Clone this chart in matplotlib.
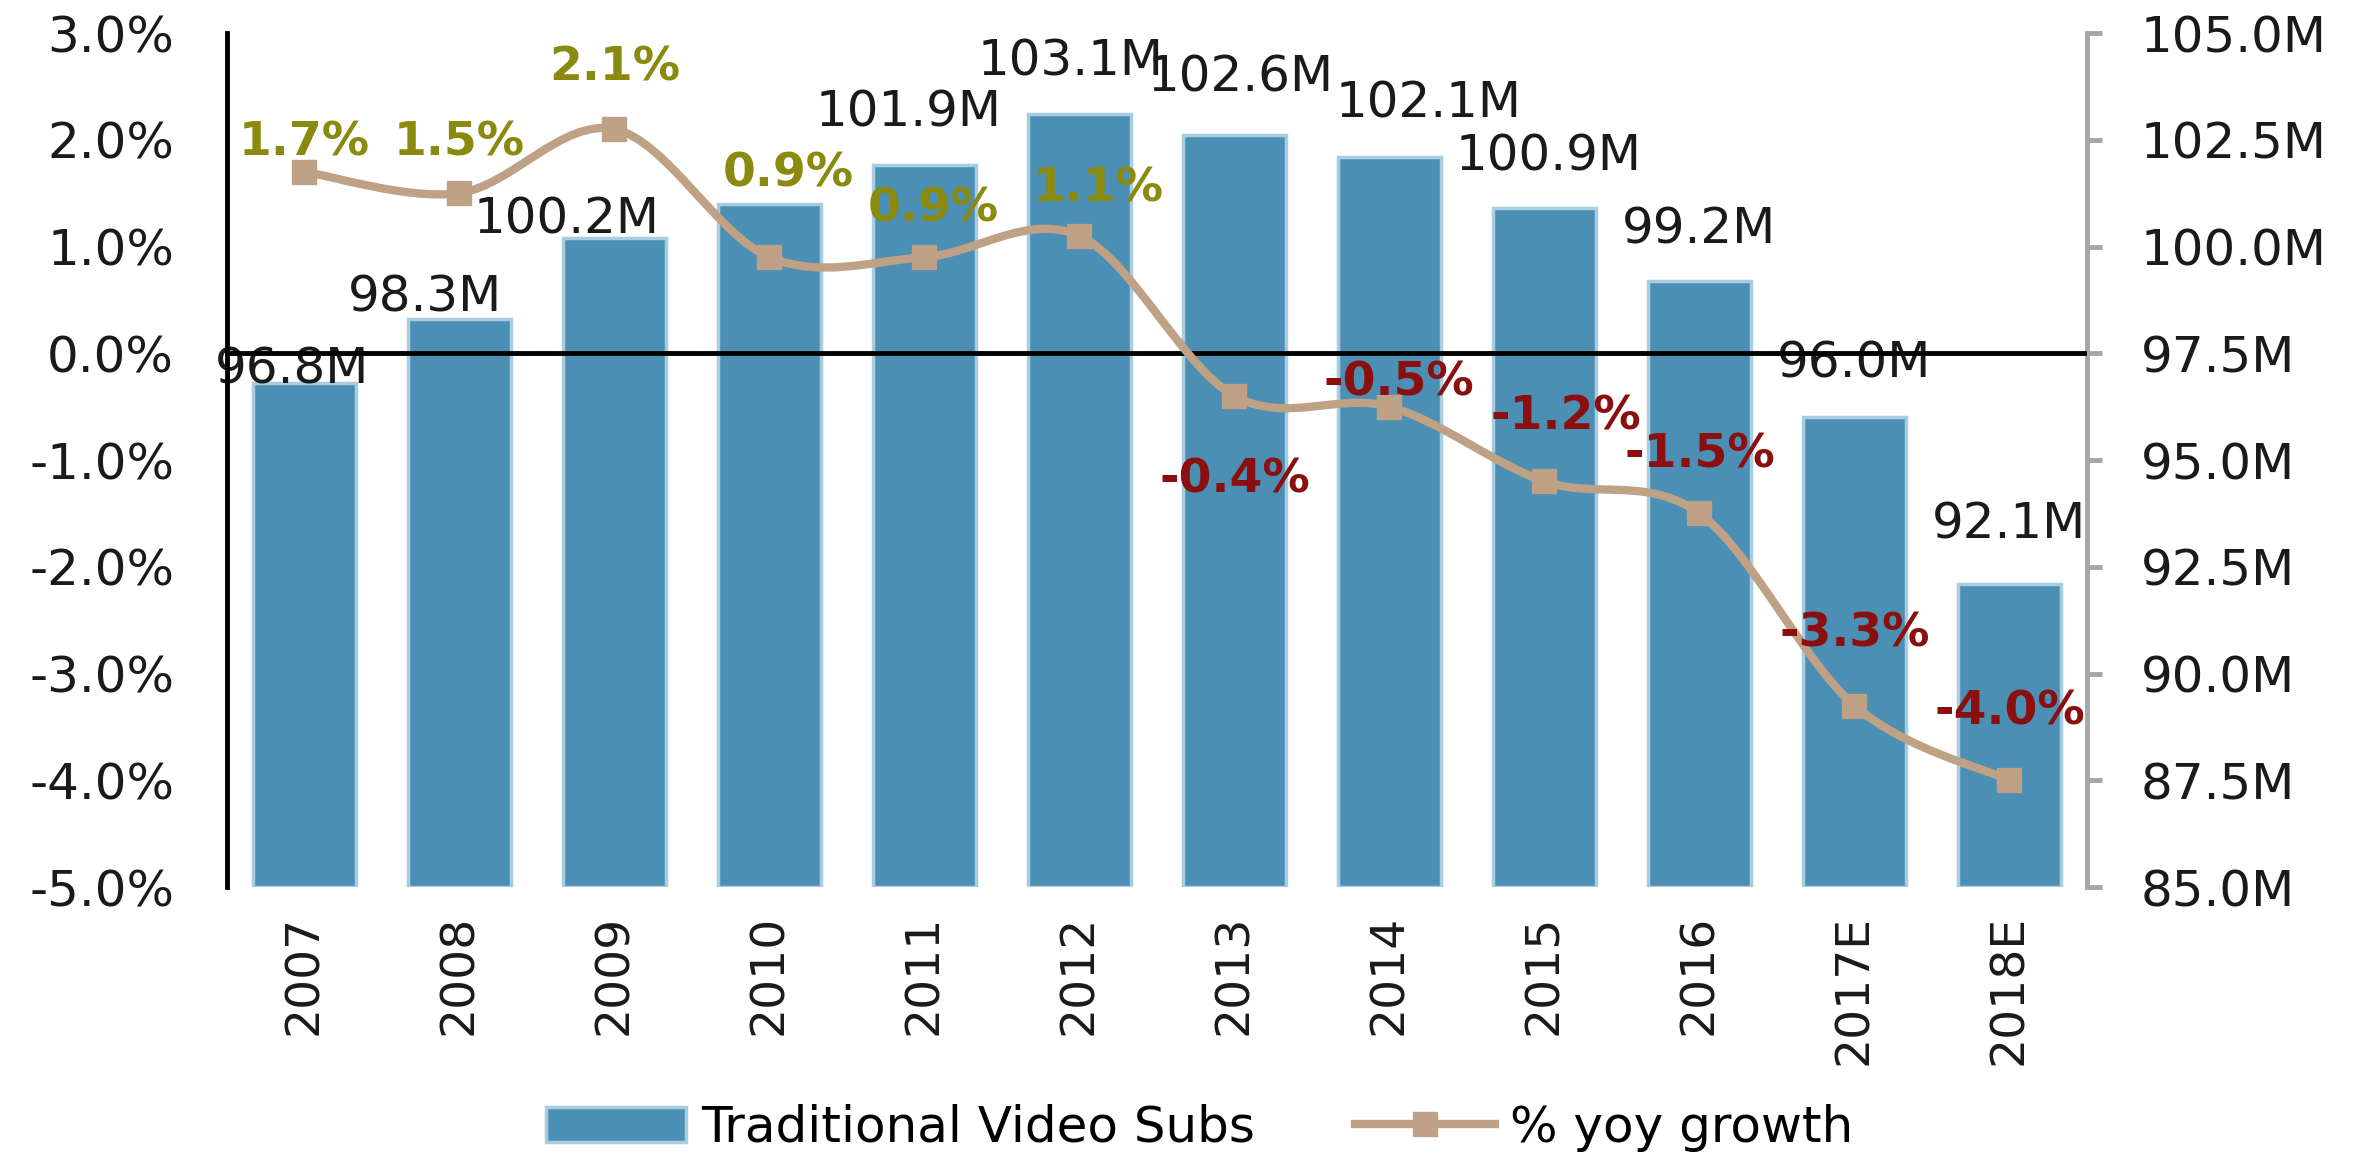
import numpy as np
import matplotlib.pyplot as plt
from matplotlib import font_manager
from matplotlib.path import Path
from matplotlib.patches import PathPatch, Patch
from matplotlib.lines import Line2D

# data
years = ["2007", "2008", "2009", "2010", "2011", "2012", "2013", "2014", "2015", "2016", "2017E", "2018E"]
subs = [96.8, 98.3, 100.2, 101.0, 101.9, 103.1, 102.6, 102.1, 100.9, 99.2, 96.0, 92.1]  # millions
growth = [1.7, 1.5, 2.1, 0.9, 0.9, 1.1, -0.4, -0.5, -1.2, -1.5, -3.3, -4.0]  # % yoy
subs_label_shown = [True, True, True, False, True, True, True, True, True, True, True, True]

# label placement (x shift in category units, y shift from value)
bar_lbl_off = [(-0.08, 0.32), (-0.22, 0.5), (-0.31, 0.44), (0, 0), (-0.1, 1.24), (-0.06, 1.24),
               (0.04, 1.35), (0.25, 1.25), (0.03, 1.2), (0.0, 1.2), (0.0, 1.25), (0.0, 1.4)]
pct_lbl_off = [(0, 0.27), (0, 0.47), (0, 0.57), (0.12, 0.78), (0.06, 0.45), (0.12, 0.44),
               (0, -0.79), (0.06, 0.22), (0.14, 0.6), (0, 0.55), (0, 0.67), (0, 0.64)]

BAR = "#4b8fb4"
BAR_EDGE = "#a8cce0"
LINE = "#bfa285"
POS = "#8a8a0e"
NEG = "#8b0f0f"
TXT = "#1a1a1a"
FS = 36

plt.rcParams["font.family"] = "DejaVu Sans"

# x labels in the original use a tall narrow face
names = {f.name for f in font_manager.fontManager.ttflist}
if "Liberation Sans Narrow" in names:
    xfont, xfs, xpad = "Liberation Sans Narrow", 46, 20
else:
    xfont, xfs, xpad = "DejaVu Sans", 34, 20

fig = plt.figure(figsize=(23.61, 11.58), dpi=100)
ax = fig.add_axes([0.0961, 0.234, 0.7878, 0.7375])
ax2 = ax.twinx()

x = np.arange(len(years))

# bars on the right axis
ax2.bar(x, [s - 85 for s in subs], bottom=85, width=0.66, color=BAR, edgecolor=BAR_EDGE, linewidth=2.5)
ax2.set_ylim(85, 105)
rticks = np.arange(85, 105.1, 2.5)
ax2.set_yticks(rticks)
ax2.set_yticklabels([f"{v:.1f}M" for v in rticks], fontsize=FS, color=TXT)
ax2.tick_params(axis="y", length=11, width=3.5, color="#a6a6a6", pad=28)
for s in ["top", "left", "bottom"]:
    ax2.spines[s].set_visible(False)
ax2.spines["right"].set_color("#a6a6a6")
ax2.spines["right"].set_linewidth(3.5)

for i, v in enumerate(subs):
    if subs_label_shown[i]:
        dx, dy = bar_lbl_off[i]
        ax2.text(x[i] + dx, v + dy, f"{v:.1f}M", ha="center", va="center", fontsize=FS, color=TXT)

# growth line on the left axis, above the bars
ax.set_zorder(ax2.get_zorder() + 1)
ax.patch.set_visible(False)
ax.set_xlim(-0.5, len(years) - 0.5)
ax.set_ylim(-5, 3)
lticks = np.arange(-5, 3.1, 1)
ax.set_yticks(lticks)
ax.set_yticklabels([f"{v:.1f}%" for v in lticks], fontsize=FS, color=TXT)
ax.tick_params(axis="y", length=0, pad=38)
ax.set_xticks(x)
ax.set_xticklabels(years, rotation=90, fontsize=xfs, color=TXT, family=[xfont, "DejaVu Sans"])
ax.tick_params(axis="x", length=0, pad=xpad)
for s in ["top", "right", "bottom"]:
    ax.spines[s].set_visible(False)
ax.spines["left"].set_linewidth(3.5)
ax.axhline(0, color="black", lw=3.5, zorder=1)

# smoothed line (catmull-rom as bezier segments)
pts = np.column_stack([x, growth]).astype(float)
verts = [pts[0]]
codes = [Path.MOVETO]
for i in range(len(pts) - 1):
    p0 = pts[i - 1] if i > 0 else pts[i]
    p1, p2 = pts[i], pts[i + 1]
    p3 = pts[i + 2] if i + 2 < len(pts) else pts[i + 1]
    verts += [p1 + (p2 - p0) / 6, p2 - (p3 - p1) / 6, p2]
    codes += [Path.CURVE4] * 3
ax.add_patch(PathPatch(Path(verts, codes), facecolor="none", edgecolor=LINE, lw=6, zorder=3))
ax.plot(x, growth, ls="none", marker="s", ms=17, color=LINE, zorder=4)

for i, v in enumerate(growth):
    dx, dy = pct_lbl_off[i]
    ax.text(x[i] + dx, v + dy, f"{v:.1f}%", ha="center", va="center", fontsize=34,
            fontweight="bold", color=POS if v >= 0 else NEG, zorder=5)

handles = [Patch(facecolor=BAR, edgecolor=BAR_EDGE, linewidth=2.5),
           Line2D([], [], color=LINE, lw=6, marker="s", ms=17)]
fig.legend(handles, ["Traditional Video Subs", "% yoy growth"], loc="center",
           bbox_to_anchor=(0.508, 0.026), ncol=2, frameon=False, fontsize=36,
           handlelength=2.8, columnspacing=2.0, handletextpad=0.3)

fig.savefig("out.png", dpi=100)
